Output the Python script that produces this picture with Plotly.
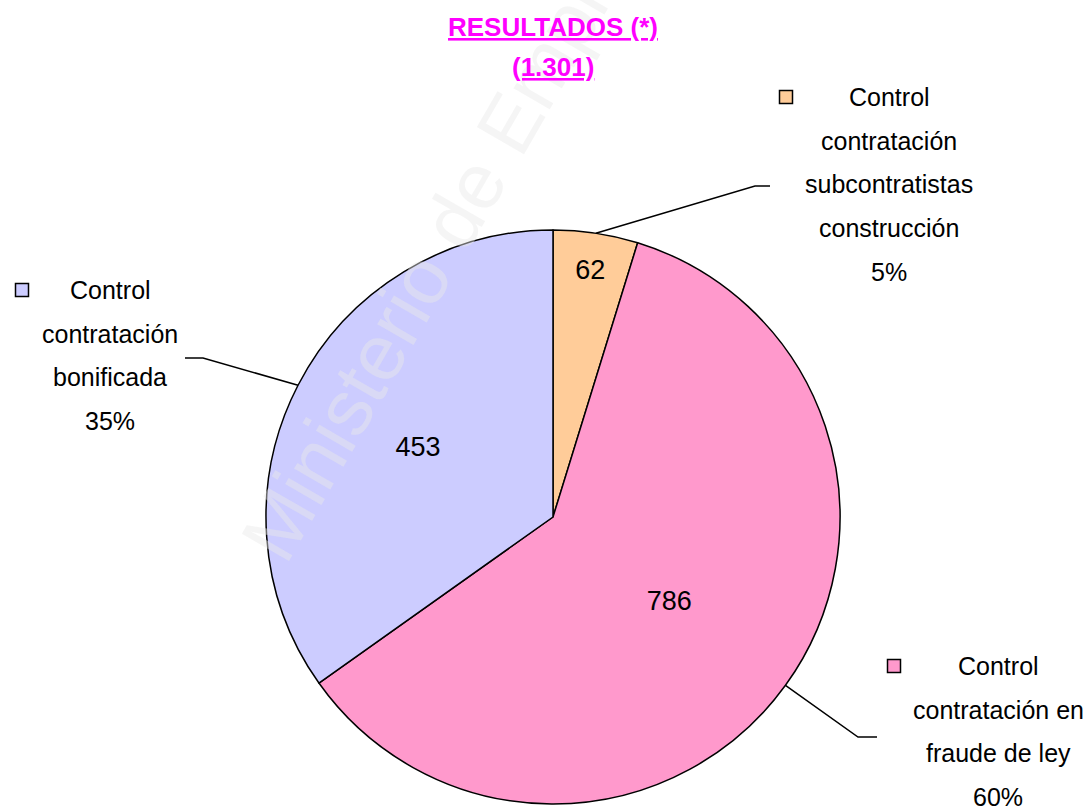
import math
import plotly.graph_objects as go

# ---- data ----
categories = ["Control contratación subcontratistas construcción",
              "Control contratación en fraude de ley",
              "Control contratación bonificada"]
values = [62, 786, 453]
label_lines = [["Control", "contratación", "subcontratistas", "construcción"],
               ["Control", "contratación en", "fraude de ley"],
               ["Control", "contratación", "bonificada"]]
colors = ["#FFCC99", "#FF99CC", "#CCCCFF"]
title_text = "RESULTADOS (*)"
watermark = "Ministerio de Empleo"

FW, FH = 1088, 811
CX, CY, R = 553, 517, 287   # pie centre / radius in page pixels


def px(x):
    return x / FW


def py(y):
    return 1 - y / FH


total = sum(values)
total_str = f"{total:,}".replace(",", ".")

LABEL_FONT = "Liberation Sans, Arial, sans-serif"

fig = go.Figure(go.Pie(
    labels=categories,
    values=values,
    sort=False,
    direction="clockwise",
    rotation=0,
    marker=dict(colors=colors, line=dict(color="black", width=1.5)),
    textinfo="value",
    textposition="inside",
    insidetextorientation="horizontal",
    textfont=dict(family="Liberation Sans, Arial, sans-serif", size=27, color="black"),
    domain=dict(x=[px(CX - R), px(CX + R)], y=[py(CY + R), py(CY - R)]),
    showlegend=False,
    hoverinfo="label+value+percent",
))

annotations = []
shapes = []

# watermark (behind the title)
annotations.append(dict(
    x=px(446), y=py(233), xref="paper", yref="paper",
    text=watermark, showarrow=False, textangle=-60,
    xanchor="center", yanchor="middle",
    font=dict(family="Liberation Sans, Arial, sans-serif", size=79,
              color="rgba(232,232,232,0.45)")))

# label block layout: first-line centre x / y, square x, elbow point, elbow end
blocks = [
    dict(cx=889, y0=97, sqx=786, ex=755, ex2=770, ey=186),
    dict(cx=998, y0=666, sqx=894, ex=858, ex2=877, ey=737),
    dict(cx=110, y0=290, sqx=22, ex=203, ex2=185, ey=358),
]
LINE_GAP = 43.7

cum = 0.0
for v, lines, col, b in zip(values, label_lines, colors, blocks):
    mid = (cum + v / 2) / total * 2 * math.pi
    cum += v
    pct = f"{round(v / total * 100)}%"
    all_lines = lines + [pct]
    for i, t in enumerate(all_lines):
        annotations.append(dict(
            x=px(b["cx"]), y=py(b["y0"] + i * LINE_GAP), xref="paper", yref="paper",
            text=t, showarrow=False, xanchor="center", yanchor="middle",
            font=dict(family=LABEL_FONT, size=25, color="black")))
    # legend key square
    shapes.append(dict(type="rect", xref="paper", yref="paper",
                       x0=px(b["sqx"] - 6.5), x1=px(b["sqx"] + 6.5),
                       y0=py(b["y0"] + 6.5), y1=py(b["y0"] - 6.5),
                       fillcolor=col, line=dict(color="black", width=1.5)))
    # leader line from slice mid-angle on the rim
    ex0 = CX + R * math.sin(mid)
    ey0 = CY - R * math.cos(mid)
    path = (f"M {px(ex0)} {py(ey0)} L {px(b['ex'])} {py(b['ey'])} "
            f"L {px(b['ex2'])} {py(b['ey'])}")
    shapes.append(dict(type="path", xref="paper", yref="paper", path=path,
                       line=dict(color="black", width=1.5)))

# title (two lines)
for txt, yy in [(title_text, 27), (f"({total_str})", 67)]:
    annotations.append(dict(
        x=px(553), y=py(yy), xref="paper", yref="paper",
        text=f"<b><u>{txt}</u></b>",
        showarrow=False, xanchor="center", yanchor="middle",
        font=dict(family=LABEL_FONT, size=26, color="#FF00FF")))

fig.update_layout(
    width=FW, height=FH,
    margin=dict(l=0, r=0, t=0, b=0),
    paper_bgcolor="white",
    plot_bgcolor="white",
    annotations=annotations,
    shapes=shapes,
)

fig.write_html("out.html",
               config={"displayModeBar": False},
               post_script="document.body.style.margin='0';"
                           "document.body.style.overflow='hidden';")
